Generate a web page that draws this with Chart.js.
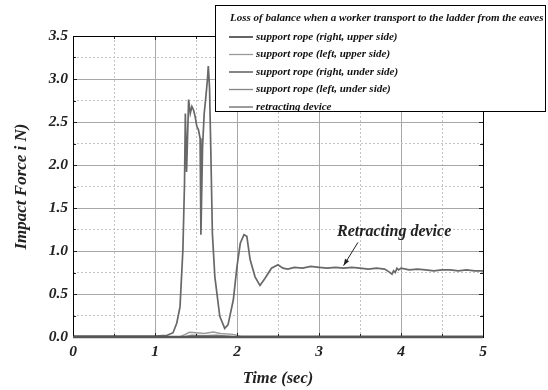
<!DOCTYPE html>
<html>
<head>
<meta charset="utf-8">
<script src="https://cdn.jsdelivr.net/npm/chart.js@4.4.1/dist/chart.umd.min.js"></script>
<style>
html,body{margin:0;padding:0;background:#fff;}
#wrap{width:548px;height:390px;position:relative;}
</style>
</head>
<body>
<div id="wrap"><canvas id="c" width="548" height="390"></canvas></div>
<script>
// ---- data ----
const legendTitle = "Loss of balance when a worker transport to the ladder from the eaves";
const seriesNames = [
  "support rope (right, upper side)",
  "support rope (left, upper side)",
  "support rope (right, under side)",
  "support rope (left, under side)",
  "retracting device"
];
const seriesColors = ["#111111", "#9a9a9a", "#444444", "#858585", "#686868"];

const tRetract = [0, 0.5, 1.0, 1.15, 1.22, 1.265, 1.305, 1.34, 1.36, 1.37, 1.385, 1.41, 1.43, 1.45, 1.47, 1.49, 1.51, 1.53, 1.55, 1.56, 1.58, 1.60, 1.62, 1.64, 1.65, 1.665, 1.68, 1.70, 1.73, 1.79, 1.85, 1.89, 1.955, 2.0, 2.04, 2.085, 2.12, 2.16, 2.22, 2.28, 2.34, 2.42, 2.50, 2.56, 2.62, 2.7, 2.8, 2.9, 3.0, 3.1, 3.2, 3.3, 3.4, 3.5, 3.6, 3.7, 3.8, 3.85, 3.89, 3.91, 3.93, 3.95, 3.97, 4.0, 4.1, 4.2, 4.3, 4.4, 4.5, 4.6, 4.7, 4.8, 4.9, 5.0];
const fRetract = [0.01, 0.01, 0.01, 0.02, 0.05, 0.16, 0.35, 1.01, 1.79, 2.6, 1.92, 2.76, 2.6, 2.68, 2.64, 2.56, 2.45, 2.41, 2.31, 1.19, 2.21, 2.6, 2.79, 3.0, 3.15, 2.9, 2.2, 1.2, 0.70, 0.24, 0.10, 0.14, 0.43, 0.82, 1.09, 1.19, 1.17, 0.90, 0.70, 0.60, 0.68, 0.80, 0.84, 0.80, 0.79, 0.81, 0.80, 0.82, 0.81, 0.80, 0.81, 0.80, 0.81, 0.80, 0.79, 0.80, 0.79, 0.76, 0.73, 0.77, 0.75, 0.80, 0.78, 0.80, 0.78, 0.79, 0.78, 0.77, 0.78, 0.78, 0.77, 0.78, 0.77, 0.77];

const tRightUpper = [0, 1.3, 2.0, 5.0];
const fRightUpper = [0, 0.0, 0.0, 0];
const tLeftUpper = [0, 1.3, 1.37, 1.42, 1.5, 1.6, 1.71, 1.8, 1.95, 2.05, 5.0];
const fLeftUpper = [0, 0.0, 0.03, 0.055, 0.05, 0.04, 0.058, 0.04, 0.03, 0.01, 0.01];
const tRightUnder = [0, 1.3, 2.0, 5.0];
const fRightUnder = [0, 0.0, 0.0, 0];
const tLeftUnder = [0, 1.35, 1.45, 1.6, 1.75, 1.9, 2.0, 5.0];
const fLeftUnder = [0, 0.0, 0.02, 0.015, 0.02, 0.01, 0.0, 0];

const annotationText = "Retracting device";
const xTickLabels = ["0", "1", "2", "3", "4", "5"];

// ---- build ----
function pts(t, f) { return t.map((x, i) => ({x: x, y: f[i]})); }
const serFont = "'Liberation Serif', 'Times New Roman', serif";

const datasets = [
  [tRightUpper, fRightUpper], [tLeftUpper, fLeftUpper], [tRightUnder, fRightUnder],
  [tLeftUnder, fLeftUnder], [tRetract, fRetract]
].map((p, i) => ({
  label: seriesNames[i],
  data: pts(p[0], p[1]),
  borderColor: seriesColors[i],
  backgroundColor: seriesColors[i],
  borderWidth: i === 4 ? 1.7 : 1.4,
  pointRadius: 0,
  tension: 0,
  fill: false
}));

const isMajor = (v, step) => Math.abs(v / step - Math.round(v / step)) < 1e-6;

const frame = {
  id: 'frame',
  afterDatasetsDraw(chart) {
    const {ctx, chartArea: a, scales} = chart;
    ctx.save();
    // inner tick marks
    ctx.strokeStyle = '#222';
    ctx.lineWidth = 1;
    for (let v = 0; v <= 3.5001; v += 0.25) {
      const y = Math.round(scales.y.getPixelForValue(v)) + 0.5;
      const L = isMajor(v, 0.5) ? 4 : 3;
      ctx.beginPath(); ctx.moveTo(a.left, y); ctx.lineTo(a.left + L, y);
      ctx.moveTo(a.right, y); ctx.lineTo(a.right - L, y); ctx.stroke();
    }
    for (let v = 0; v <= 5.0001; v += 0.5) {
      const x = Math.round(scales.x.getPixelForValue(v)) + 0.5;
      const L = isMajor(v, 1) ? 4 : 3;
      ctx.beginPath(); ctx.moveTo(x, a.top); ctx.lineTo(x, a.top + L);
      ctx.moveTo(x, a.bottom); ctx.lineTo(x, a.bottom - L); ctx.stroke();
    }
    // frame
    ctx.strokeStyle = '#000';
    ctx.lineWidth = 1;
    ctx.strokeRect(Math.round(a.left) + 0.5, Math.round(a.top) + 0.5, Math.round(a.right - a.left), Math.round(a.bottom - a.top));
    ctx.strokeStyle = '#555';
    ctx.lineWidth = 2.5;
    ctx.beginPath(); ctx.moveTo(a.left, a.bottom); ctx.lineTo(a.right, a.bottom); ctx.stroke();

    // annotation
    const sx = scales.x, sy = scales.y;
    ctx.fillStyle = '#222';
    ctx.font = "bold italic 16px " + serFont;
    ctx.textBaseline = 'middle';
    ctx.textAlign = 'left';
    ctx.fillText(annotationText, sx.getPixelForValue(3.22), sy.getPixelForValue(1.225));
    const x1 = sx.getPixelForValue(3.475), y1 = sy.getPixelForValue(1.10);
    const x2 = sx.getPixelForValue(3.30), y2 = sy.getPixelForValue(0.83);
    ctx.strokeStyle = '#222'; ctx.lineWidth = 1;
    ctx.beginPath(); ctx.moveTo(x1, y1); ctx.lineTo(x2, y2); ctx.stroke();
    const ang = Math.atan2(y2 - y1, x2 - x1);
    ctx.beginPath();
    ctx.moveTo(x2, y2);
    ctx.lineTo(x2 - 7 * Math.cos(ang - 0.35), y2 - 7 * Math.sin(ang - 0.35));
    ctx.lineTo(x2 - 7 * Math.cos(ang + 0.35), y2 - 7 * Math.sin(ang + 0.35));
    ctx.closePath(); ctx.fill();

    // legend box
    const bx = 215, by = 5, bw = 330, bh = 106;
    ctx.fillStyle = '#fff';
    ctx.fillRect(bx, by, bw, bh);
    ctx.strokeStyle = '#000'; ctx.lineWidth = 1;
    ctx.strokeRect(bx + 0.5, by + 0.5, bw, bh);
    ctx.fillStyle = '#111';
    ctx.font = "bold italic 11px " + serFont;
    ctx.fillText(legendTitle, 230, 18);
    chart.data.datasets.forEach((ds, i) => {
      const yy = 37 + i * 17.5;
      ctx.strokeStyle = ds.borderColor; ctx.lineWidth = 1.3;
      ctx.beginPath(); ctx.moveTo(229, yy); ctx.lineTo(253, yy); ctx.stroke();
      ctx.fillStyle = '#111';
      ctx.fillText(ds.label, 256, yy);
    });
    ctx.restore();
  }
};

new Chart(document.getElementById('c'), {
  type: 'line',
  data: { datasets: datasets },
  options: {
    responsive: false,
    animation: false,
    layout: { padding: { top: 36, right: 65, left: 0, bottom: 0 } },
    plugins: { legend: { display: false }, tooltip: { enabled: false } },
    scales: {
      x: {
        type: 'linear', min: 0, max: 5,
        afterFit: (s) => { s.height = 53; },
        ticks: {
          stepSize: 0.5, autoSkip: false, maxRotation: 0, padding: 6,
          color: '#222',
          font: { family: serFont, size: 15.5, weight: 'bold', style: 'italic' },
          callback: (v) => isMajor(v, 1) ? xTickLabels[Math.round(v)] : ''
        },
        grid: {
          drawTicks: false,
          color: (c) => isMajor(c.tick.value, 1) ? '#a8a8a8' : '#c4c4c4',
          lineWidth: 1
        },
        border: { display: false, dash: (c) => (c.tick && isMajor(c.tick.value, 1)) ? [] : [2, 2] },
        title: {
          display: true, text: 'Time (sec)', color: '#222',
          font: { family: serFont, size: 16.5, weight: 'bold', style: 'italic' },
          padding: { top: 4, bottom: 1 }
        }
      },
      y: {
        type: 'linear', min: 0, max: 3.5,
        afterFit: (s) => { s.width = 73; },
        ticks: {
          stepSize: 0.25, autoSkip: false, padding: 5, color: '#222',
          font: { family: serFont, size: 15.5, weight: 'bold', style: 'italic' },
          callback: (v) => isMajor(v, 0.5) ? v.toFixed(1) : ''
        },
        grid: {
          drawTicks: false,
          color: (c) => isMajor(c.tick.value, 0.5) ? '#a8a8a8' : '#c4c4c4',
          lineWidth: 1
        },
        border: { display: false, dash: (c) => (c.tick && isMajor(c.tick.value, 0.5)) ? [] : [2, 2] },
        title: {
          display: true, text: 'Impact Force i N)', color: '#222',
          font: { family: serFont, size: 17, weight: 'bold', style: 'italic' },
          padding: { top: 11, bottom: 0 }
        }
      }
    }
  },
  plugins: [frame]
});
</script>
</body>
</html>
